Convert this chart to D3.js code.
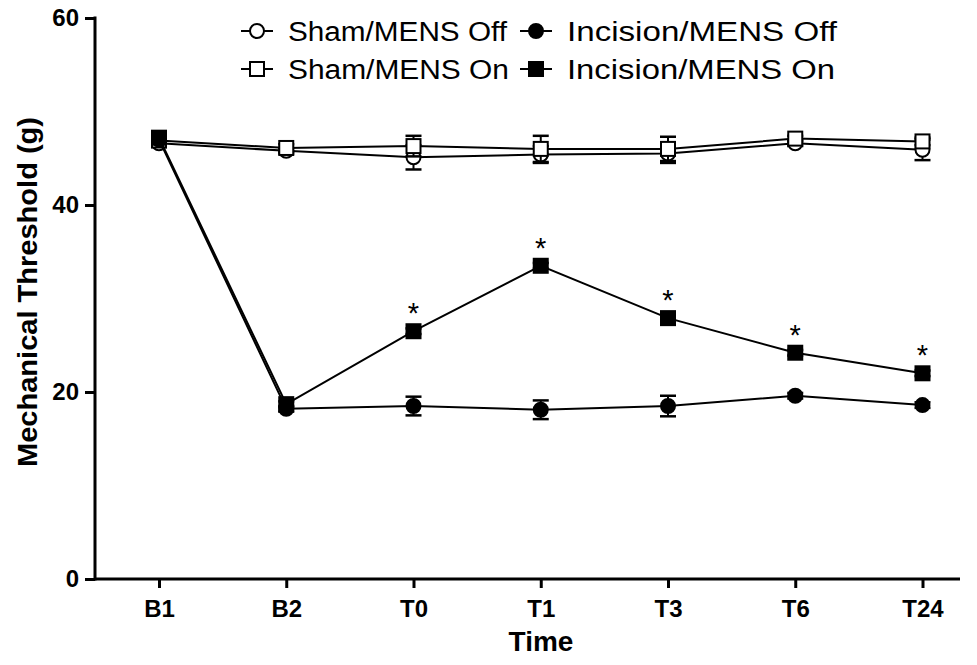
<!DOCTYPE html>
<html>
<head>
<meta charset="utf-8">
<script src="https://cdn.jsdelivr.net/npm/d3@7"></script>
<style>
  body { margin: 0; background: #fff; }
  svg text { font-family: "Liberation Sans", Arial, sans-serif; fill: #000; }
</style>
</head>
<body>
<svg id="chart" width="977" height="665"></svg>
<script>
// time points
const timePoints = ["B1", "B2", "T0", "T1", "T3", "T6", "T24"];
const yTicks = [0, 20, 40, 60];

// means and SEM
const shamOff = [46.6, 45.8, 45.1, 45.4, 45.5, 46.6, 45.9];
const shamOffErr = [0.4, 0.3, 1.3, 0.9, 1.0, 0.3, 1.1];
const shamOn = [46.9, 46.1, 46.3, 46.0, 46.0, 47.1, 46.8];
const shamOnErr = [0.4, 0.4, 1.1, 1.4, 1.3, 0.3, 0.4];
const incOff = [47.0, 18.2, 18.5, 18.1, 18.5, 19.6, 18.6];
const incOffErr = [0.4, 0.3, 1.0, 1.0, 1.1, 0.3, 0.3];
const incOn = [47.2, 18.7, 26.5, 33.5, 27.9, 24.2, 22.0];
const incOnErr = [0.4, 0.3, 0.3, 0.3, 0.6, 0.3, 0.3];
const starFlags = [false, false, true, true, true, true, true];

const series = [
  { name: "Sham/MENS Off", values: shamOff, err: shamOffErr, shape: "circle", fill: "#fff", textLen: 219 },
  { name: "Sham/MENS On", values: shamOn, err: shamOnErr, shape: "square", fill: "#fff", textLen: 221 },
  { name: "Incision/MENS Off", values: incOff, err: incOffErr, shape: "circle", fill: "#000", textLen: 270 },
  { name: "Incision/MENS On", values: incOn, err: incOnErr, shape: "square", fill: "#000", textLen: 268 }
];

const svg = d3.select("#chart");
const axisX0 = 95, axisX1 = 960, axisY0 = 579, axisY1 = 18;

const x = d3.scalePoint().domain(timePoints).range([159, 922.5]);
const y = d3.scaleLinear().domain([0, 60]).range([axisY0, axisY1]);

// axes
const yAxis = svg.append("g")
    .attr("transform", `translate(${axisX0},0)`)
    .call(d3.axisLeft(y).tickValues(yTicks).tickSize(10).tickPadding(6));
const xAxis = svg.append("g")
    .attr("transform", `translate(0,${axisY0})`)
    .call(d3.axisBottom(x).tickSize(9).tickPadding(12));
[yAxis, xAxis].forEach(g => {
  g.select(".domain").remove();
  g.selectAll(".tick line").attr("stroke", "#000").attr("stroke-width", 3);
  g.selectAll(".tick text").attr("font-size", 24).attr("font-weight", "bold")
      .attr("font-family", "Liberation Sans, Arial, sans-serif");
});
svg.append("line").attr("x1", axisX0).attr("x2", axisX0).attr("y1", axisY1 - 1.5).attr("y2", axisY0 + 1.5)
    .attr("stroke", "#000").attr("stroke-width", 3);
svg.append("line").attr("x1", axisX0).attr("x2", axisX1).attr("y1", axisY0).attr("y2", axisY0)
    .attr("stroke", "#000").attr("stroke-width", 3);

// axis titles
svg.append("text").attr("x", 541).attr("y", 651).attr("text-anchor", "middle")
    .attr("font-size", 28).attr("font-weight", "bold").text("Time");
svg.append("text").attr("transform", "translate(37,292) rotate(-90)").attr("text-anchor", "middle")
    .attr("font-size", 28).attr("font-weight", "bold")
    .attr("textLength", 350).attr("lengthAdjust", "spacingAndGlyphs")
    .text("Mechanical Threshold (g)");

const line = d3.line().x((d, i) => x(timePoints[i])).y(d => y(d));

function drawMarker(g, shape, fill, cx, cy) {
  if (shape === "circle") {
    g.append("circle").attr("cx", cx).attr("cy", cy).attr("r", 7)
        .attr("fill", fill).attr("stroke", "#000").attr("stroke-width", 2);
  } else {
    g.append("rect").attr("x", cx - 7).attr("y", cy - 7).attr("width", 14).attr("height", 14)
        .attr("fill", fill).attr("stroke", "#000").attr("stroke-width", 2);
  }
}

// lines, error bars, markers
series.forEach(s => {
  const g = svg.append("g");
  g.append("path").attr("d", line(s.values)).attr("fill", "none")
      .attr("stroke", "#000").attr("stroke-width", 2);
  s.values.forEach((v, i) => {
    const cx = x(timePoints[i]);
    g.append("line").attr("x1", cx).attr("x2", cx).attr("y1", y(v + s.err[i])).attr("y2", y(v - s.err[i]))
        .attr("stroke", "#000").attr("stroke-width", 2);
    [v + s.err[i], v - s.err[i]].forEach(e => {
      g.append("line").attr("x1", cx - 8).attr("x2", cx + 8).attr("y1", y(e)).attr("y2", y(e))
          .attr("stroke", "#000").attr("stroke-width", 2.5);
    });
  });
  s.values.forEach((v, i) => drawMarker(g, s.shape, s.fill, x(timePoints[i]), y(v)));
});

// significance stars
const starData = timePoints.map((t, i) => ({ t: t, v: incOn[i], on: starFlags[i] })).filter(d => d.on);
svg.selectAll(".star").data(starData)
  .join("text").attr("class", "star")
    .attr("x", d => x(d.t)).attr("y", d => y(d.v) - 8)
    .attr("text-anchor", "middle").attr("font-size", 29).text("*");

// legend
const legendCols = [241, 520];
const legendRows = [31, 69];
series.forEach((s, k) => {
  const lx = legendCols[Math.floor(k / 2)], ly = legendRows[k % 2];
  const g = svg.append("g");
  g.append("line").attr("x1", lx).attr("x2", lx + 32).attr("y1", ly).attr("y2", ly)
      .attr("stroke", "#000").attr("stroke-width", 2);
  drawMarker(g, s.shape, s.fill, lx + 16, ly);
  g.append("text").attr("x", lx + 47).attr("y", ly + 10)
      .attr("font-size", 27).attr("textLength", s.textLen).attr("lengthAdjust", "spacingAndGlyphs")
      .text(s.name);
});
</script>
</body>
</html>
